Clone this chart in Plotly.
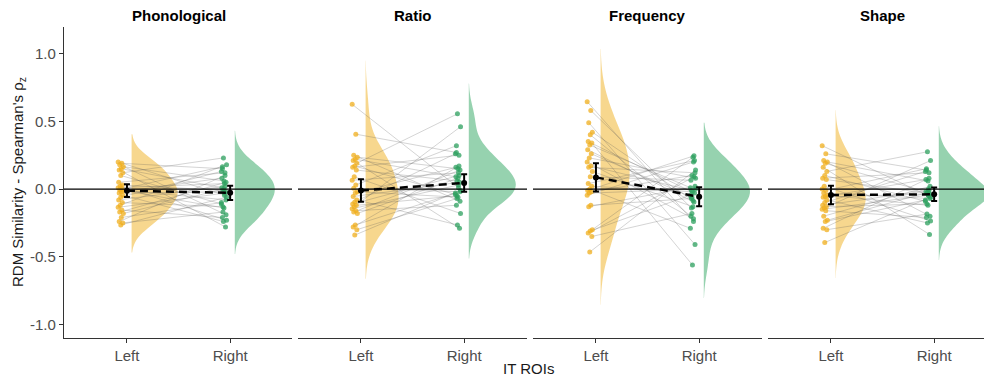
import numpy as np
import plotly.graph_objects as go

# ---------------- data ----------------
panels = ["Phonological", "Ratio", "Frequency", "Shape"]
roi_labels = ["Left", "Right"]

# per-subject similarity values (subject order)
phon_left = [0.20, 0.19, 0.18, 0.165, 0.15, 0.14, 0.12, 0.10, 0.05, 0.03, 0.02, 0.01, 0.0, -0.005, -0.01,
             -0.02, -0.03, -0.045, -0.06, -0.08, -0.10, -0.12, -0.135, -0.155, -0.17, -0.18, -0.21, -0.24, -0.25, -0.265]
phon_right = [0.23, 0.18, 0.165, 0.15, 0.13, 0.12, 0.10, 0.08, 0.06, 0.05, 0.04, 0.02, 0.01, 0.0, -0.01,
              -0.02, -0.03, -0.045, -0.06, -0.08, -0.10, -0.11, -0.13, -0.14, -0.17, -0.19, -0.21, -0.23, -0.24, -0.28]
ratio_left = [0.625, 0.405, 0.25, 0.235, 0.22, 0.21, 0.19, 0.17, 0.16, 0.14, 0.09, 0.065, 0.03, 0.005, -0.02,
              -0.03, -0.055, -0.08, -0.095, -0.11, -0.12, -0.13, -0.145, -0.16, -0.17, -0.18, -0.265, -0.28, -0.30, -0.34]
ratio_right = [0.555, 0.46, 0.32, 0.27, 0.26, 0.25, 0.17, 0.16, 0.15, 0.14, 0.12, 0.10, 0.09, 0.08, 0.06,
               0.05, 0.03, 0.01, -0.01, -0.02, -0.03, -0.04, -0.05, -0.06, -0.07, -0.09, -0.12, -0.18, -0.265, -0.29]
freq_left = [0.645, 0.58, 0.49, 0.42, 0.40, 0.35, 0.34, 0.325, 0.29, 0.26, 0.23, 0.20, 0.17, 0.16, 0.13,
             0.09, 0.04, 0.02, 0.0, -0.01, -0.02, -0.03, -0.045, -0.12, -0.13, -0.30, -0.31, -0.325, -0.35, -0.465]
freq_right = [0.245, 0.235, 0.21, 0.20, 0.14, 0.12, 0.10, 0.09, 0.08, 0.065, 0.02, 0.01, 0.0, -0.01, -0.02,
              -0.03, -0.045, -0.06, -0.07, -0.085, -0.095, -0.13, -0.14, -0.18, -0.20, -0.22, -0.24, -0.29, -0.41, -0.56]
shape_left = [0.32, 0.26, 0.21, 0.20, 0.19, 0.16, 0.13, 0.10, 0.08, 0.07, 0.02, 0.0, -0.01, -0.03, -0.045,
              -0.055, -0.06, -0.08, -0.10, -0.12, -0.13, -0.14, -0.15, -0.16, -0.20, -0.23, -0.24, -0.29, -0.30, -0.395]
shape_right = [0.275, 0.21, 0.15, 0.14, 0.13, 0.12, 0.08, 0.07, 0.06, 0.02, 0.0, -0.01, -0.02, -0.025, -0.03,
               -0.035, -0.045, -0.05, -0.06, -0.07, -0.08, -0.09, -0.11, -0.12, -0.185, -0.20, -0.21, -0.235, -0.25, -0.335]

# which right-hemisphere value belongs to each subject (index into right lists)
pairing_a = [17, 3, 25, 8, 12, 29, 0, 21, 5, 14, 27, 10, 2, 19, 23, 7, 15, 28, 4, 11, 22, 1, 16, 26, 9, 13, 20, 6, 24, 18]
pairing_b = [26, 22, 28, 19, 24, 15, 29, 11, 20, 17, 8, 25, 13, 5, 21, 9, 2, 14, 27, 0, 6, 12, 3, 18, 10, 1, 16, 7, 23, 4]

# group means and 95% CI half-widths (Left, Right)
mean_phon = [-0.012, -0.028]
ci_phon = [0.047, 0.052]
mean_ratio = [-0.011, 0.045]
ci_ratio = [0.083, 0.065]
mean_freq = [0.086, -0.057]
ci_freq = [0.105, 0.07]
mean_shape = [-0.044, -0.039]
ci_shape = [0.068, 0.05]

left_sets = [phon_left, ratio_left, freq_left, shape_left]
right_sets = [phon_right, ratio_right, freq_right, shape_right]
pairings = [pairing_a, pairing_a, pairing_b, pairing_a]
means = [mean_phon, mean_ratio, mean_freq, mean_shape]
cis = [ci_phon, ci_ratio, ci_freq, ci_shape]

# ---------------- style ----------------
W, H = 984, 377
ORANGE = "rgb(240,175,30)"
GREEN = "rgb(45,160,95)"
ORANGE_FILL = "rgba(240,175,30,0.5)"
GREEN_FILL = "rgba(45,165,95,0.5)"
AX = "#333333"
TICKC = "#4d4d4d"
FONT = "Liberation Sans, Arial, sans-serif"

panel_px = [(64, 292), (298, 527), (533, 762), (768, 984)]
px_per_unit = 103.2
violin_half_px = [(46, 40), (33, 47), (29, 46), (30, 50)]
y_top_px, y_bot_px = 26.7, 337.7
y_range = [-1.097, 1.198]

jit = [((i * 7) % 11 - 5) / 200 for i in range(30)]


def nrd0(v):
    v = np.asarray(v)
    sd = v.std(ddof=1)
    iqr = np.subtract(*np.percentile(v, [75, 25])) / 1.34
    return 0.9 * min(sd, iqr) * len(v) ** (-0.2)


fig = go.Figure()

for k in range(4):
    xa = "x" if k == 0 else f"x{k+1}"
    ya = "y" if k == 0 else f"y{k+1}"
    left = left_sets[k]
    right_sorted = right_sets[k]
    right = [right_sorted[j] for j in pairings[k]]

    # half violins
    for side_i, (vals, pos, fill) in enumerate([(left, 1, ORANGE_FILL), (right, 2, GREEN_FILL)]):
        bw0 = nrd0(vals)
        bw = 1.4 * bw0
        half_w = violin_half_px[k][side_i] / px_per_unit
        fig.add_trace(go.Violin(
            y=vals, x0=pos + 0.045, side="positive", width=2 * half_w,
            bandwidth=bw, spanmode="manual", span=[min(vals) - 3.2 * bw0, max(vals) + 3.2 * bw0],
            fillcolor=fill, line=dict(width=0, color="rgba(0,0,0,0)"),
            points=False, box_visible=False, meanline_visible=False,
            hoverinfo="skip", showlegend=False, xaxis=xa, yaxis=ya))

    # paired lines
    lx, ly = [], []
    for i in range(len(left)):
        lx += [1 - 0.06 + jit[i], 2 - 0.06 + jit[(i + 4) % 30], None]
        ly += [left[i], right[i], None]
    fig.add_trace(go.Scatter(x=lx, y=ly, mode="lines",
                             line=dict(color="rgba(90,90,90,0.26)", width=1),
                             hoverinfo="skip", showlegend=False, xaxis=xa, yaxis=ya))

    # points
    fig.add_trace(go.Scatter(x=[1 - 0.06 + jit[i] for i in range(len(left))], y=left, mode="markers",
                             marker=dict(color=ORANGE, size=5, opacity=0.75),
                             showlegend=False, xaxis=xa, yaxis=ya))
    fig.add_trace(go.Scatter(x=[2 - 0.06 + jit[(i + 4) % 30] for i in range(len(right))], y=right, mode="markers",
                             marker=dict(color=GREEN, size=5, opacity=0.75),
                             showlegend=False, xaxis=xa, yaxis=ya))

    # dashed mean line
    fig.add_trace(go.Scatter(x=[1, 2], y=means[k], mode="lines",
                             line=dict(color="black", width=2.5, dash="8px,5px"),
                             showlegend=False, xaxis=xa, yaxis=ya))
    # means with CI
    fig.add_trace(go.Scatter(x=[1, 2], y=means[k], mode="markers",
                             marker=dict(color="black", size=6),
                             error_y=dict(type="data", array=cis[k], color="black", thickness=2, width=3),
                             showlegend=False, xaxis=xa, yaxis=ya))

    # zero line
    fig.add_shape(type="line", xref=f"{xa} domain", yref=ya, x0=0, x1=1, y0=0, y1=0,
                  line=dict(color="black", width=1.2), layer="above")

    x0p, x1p = panel_px[k]
    xr = [0.39, 0.39 + (x1p - x0p) / px_per_unit]
    xkey = "xaxis" if k == 0 else f"xaxis{k+1}"
    ykey = "yaxis" if k == 0 else f"yaxis{k+1}"
    fig.layout[xkey] = dict(domain=[x0p / W, x1p / W], range=xr, type="linear", anchor=ya,
                            tickvals=[1, 2], ticktext=roi_labels, ticks="outside", ticklen=4,
                            tickcolor=AX, showline=True, linecolor=AX, linewidth=1.2,
                            showgrid=False, zeroline=False,
                            tickfont=dict(size=15, color=TICKC, family=FONT))
    ydom = [(H - y_bot_px) / H, (H - y_top_px) / H]
    if k == 0:
        fig.layout[ykey] = dict(domain=ydom, range=y_range, anchor=xa,
                                tickvals=[-1, -0.5, 0, 0.5, 1],
                                ticktext=["-1.0", "-0.5", "0.0", "0.5", "1.0"],
                                ticks="outside", ticklen=4, tickcolor=AX,
                                showline=True, linecolor=AX, linewidth=1.2,
                                showgrid=False, zeroline=False,
                                tickfont=dict(size=15, color=TICKC, family=FONT))
    else:
        fig.layout[ykey] = dict(domain=ydom, range=y_range, anchor=xa, visible=False,
                                showgrid=False, zeroline=False)

    cx = (x0p + (x0p + 229)) / 2 / W
    fig.add_annotation(text=f"<b>{panels[k]}</b>", x=cx, y=(H - 15) / H, xref="paper", yref="paper",
                       showarrow=False, xanchor="center", yanchor="middle",
                       font=dict(size=15, color="black", family=FONT))

fig.add_annotation(text="RDM Similarity - Spearman's ρ<sub>z</sub>", x=18 / W, y=(H - 182) / H,
                   xref="paper", yref="paper", showarrow=False, textangle=-90,
                   xanchor="center", yanchor="middle", font=dict(size=15, color="#1a1a1a", family=FONT))
fig.add_annotation(text="IT ROIs", x=528 / W, y=(H - 368) / H, xref="paper", yref="paper",
                   showarrow=False, xanchor="center", yanchor="middle",
                   font=dict(size=15, color="#1a1a1a", family=FONT))

fig.update_layout(width=W, height=H, margin=dict(l=0, r=0, t=0, b=0),
                  paper_bgcolor="white", plot_bgcolor="white", violinmode="overlay",
                  font=dict(family=FONT))

fig.write_html("out.html", config={"displayModeBar": False},
               post_script="document.body.style.margin='0px';document.body.style.padding='0px';"
                           "document.body.style.overflow='hidden';")
